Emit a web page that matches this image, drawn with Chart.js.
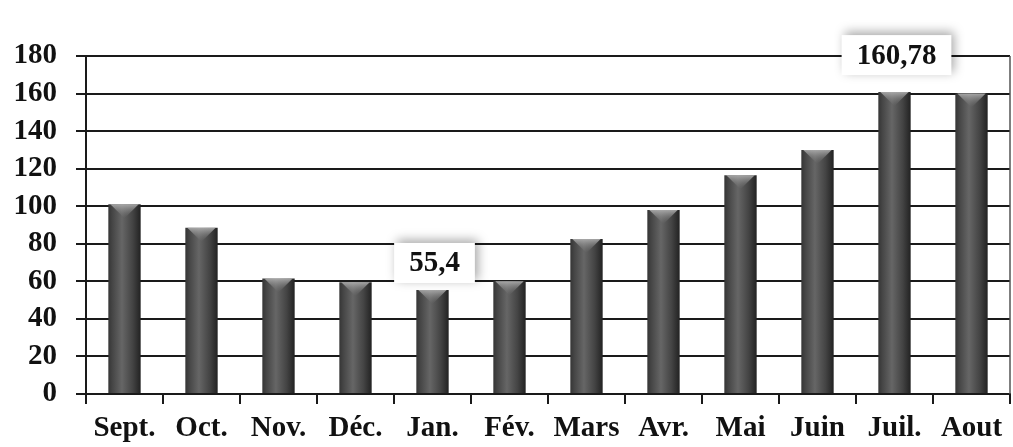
<!DOCTYPE html>
<html lang="fr">
<head>
<meta charset="utf-8">
<title>Prix mensuels</title>
<script src="https://cdn.jsdelivr.net/npm/chart.js@4.4.1/dist/chart.umd.min.js"></script>
<style>
    html, body { margin: 0; padding: 0; background: #ffffff; }
    #wrap { position: relative; width: 1013px; height: 447px; }
</style>
</head>
<body>
<div id="wrap"><canvas id="prixChart"></canvas></div>
<script>
// Mois de la campagne (septembre -> aout)
const mois = ['Sept.', 'Oct.', 'Nov.', 'Déc.', 'Jan.', 'Fév.', 'Mars', 'Avr.', 'Mai', 'Juin', 'Juil.', 'Aout'];
const valeurs = [101, 88.5, 61.5, 59.5, 55.4, 60, 82.5, 98, 116.5, 130, 160.78, 160];
// Valeurs affichées dans les cartouches (vide = pas d'étiquette)
const etiquettes = ['', '', '', '', '55,4', '', '', '', '', '', '160,78', ''];
const graduations = [0, 20, 40, 60, 80, 100, 120, 140, 160, 180];

const police = { family: "'Liberation Serif', 'Times New Roman', serif", size: 29, weight: 'bold' };
const largeurBarre = 0.42;

// Dégradé horizontal "cylindre" calculé depuis l'échelle x
function degradeBarre(context) {
    const chart = context.chart;
    const x = chart.scales.x;
    if (!x || !chart.chartArea) return '#4a4a4a';
    const cx = x.getPixelForValue(context.dataIndex);
    const w = (chart.chartArea.width / mois.length) * largeurBarre;
    const l = cx - w / 2;
    const r = cx + w / 2;
    const g = chart.ctx.createLinearGradient(l, 0, r, 0);
    g.addColorStop(0, '#353535');
    g.addColorStop(0.12, '#454545');
    g.addColorStop(0.42, '#666666');
    g.addColorStop(0.75, '#444444');
    g.addColorStop(1, '#222222');
    return g;
}

// Reflet en V sur le haut de chaque barre
const refletPlugin = {
    id: 'reflet',
    afterDatasetsDraw(chart) {
        const ctx = chart.ctx;
        chart.getDatasetMeta(0).data.forEach(bar => {
            const l = bar.x - bar.width / 2;
            const r = bar.x + bar.width / 2;
            const h = 14;
            ctx.save();
            const g = ctx.createLinearGradient(0, bar.y, 0, bar.y + h);
            g.addColorStop(0, 'rgba(175,175,175,0.9)');
            g.addColorStop(1, 'rgba(120,120,120,0)');
            ctx.fillStyle = g;
            ctx.beginPath();
            ctx.moveTo(l + 2, bar.y);
            ctx.lineTo(r - 2, bar.y);
            ctx.lineTo(bar.x, bar.y + h);
            ctx.closePath();
            ctx.fill();
            ctx.restore();
        });
    }
};

// Cartouches blancs ombrés au-dessus de certaines barres
const cartouchePlugin = {
    id: 'cartouche',
    afterDraw(chart, args, opts) {
        const ctx = chart.ctx;
        const meta = chart.getDatasetMeta(0);
        ctx.save();
        ctx.font = `${police.weight} ${police.size}px ${police.family}`;
        ctx.textAlign = 'center';
        ctx.textBaseline = 'middle';
        etiquettes.forEach((txt, i) => {
            if (!txt) return;
            const bar = meta.data[i];
            const lift = (opts.decalage && opts.decalage[i]) || 30;
            const cx = bar.x + 2;
            const cy = bar.y - lift;
            const w = ctx.measureText(txt).width + 30;
            const h = 40;
            ctx.save();
            ctx.shadowColor = 'rgba(0,0,0,0.35)';
            ctx.shadowBlur = 10;
            ctx.shadowOffsetX = 3;
            ctx.shadowOffsetY = -3;
            ctx.fillStyle = '#ffffff';
            ctx.fillRect(cx - w / 2, cy - h / 2, w, h);
            ctx.restore();
            ctx.fillStyle = '#111111';
            ctx.fillText(txt, cx, cy + 1);
        });
        ctx.restore();
    }
};

// Bordure droite de la zone de tracé
const bordurePlugin = {
    id: 'bordure',
    afterDraw(chart) {
        const a = chart.chartArea;
        const ctx = chart.ctx;
        ctx.save();
        ctx.strokeStyle = '#555555';
        ctx.lineWidth = 1.5;
        ctx.beginPath();
        ctx.moveTo(a.right, a.top);
        ctx.lineTo(a.right, a.bottom);
        ctx.stroke();
        ctx.restore();
    }
};

const prixChart = new Chart(document.getElementById('prixChart'), {
    type: 'bar',
    data: {
        labels: mois,
        datasets: [{
            data: valeurs,
            backgroundColor: degradeBarre,
            borderWidth: 0,
            categoryPercentage: 1,
            barPercentage: largeurBarre
        }]
    },
    options: {
        responsive: true,
        maintainAspectRatio: false,
        animation: false,
        layout: { padding: { top: 56, right: 3, left: 0, bottom: 0 } },
        plugins: {
            legend: { display: false },
            tooltip: { enabled: false },
            cartouche: { decalage: { 4: 27, 10: 37 } }
        },
        scales: {
            x: {
                afterFit(scale) { scale.height = 53; },
                grid: {
                    offset: true,
                    drawOnChartArea: false,
                    drawTicks: true,
                    tickLength: 10,
                    color: '#1a1a1a',
                    lineWidth: 2
                },
                border: { display: true, color: '#1a1a1a', width: 2 },
                ticks: { color: '#111111', font: police, padding: 7, maxRotation: 0, autoSkip: false }
            },
            y: {
                min: 0,
                max: 180,
                afterFit(scale) { scale.width = 86; },
                afterBuildTicks(scale) { scale.ticks = graduations.map(v => ({ value: v })); },
                grid: {
                    color: '#1a1a1a',
                    lineWidth: 2,
                    tickLength: 10
                },
                border: { display: true, color: '#1a1a1a', width: 2 },
                ticks: { color: '#111111', font: police, padding: 19, autoSkip: false }
            }
        }
    },
    plugins: [refletPlugin, cartouchePlugin, bordurePlugin]
});
</script>
</body>
</html>
